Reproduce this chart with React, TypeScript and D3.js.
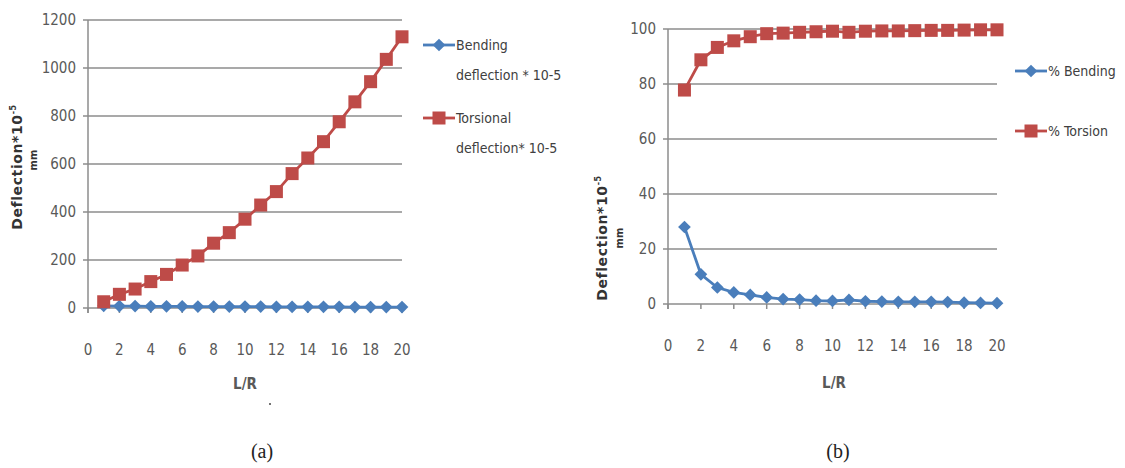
import { useEffect, useRef } from "react";
import * as d3 from "d3";

// L/R values
const lr = d3.range(1, 21);

// chart (a): deflection * 10^-5 mm
const bendingDeflection = [9, 8, 8, 7, 7, 7, 6, 6, 6, 6, 6, 5, 5, 5, 5, 5, 4, 4, 4, 4];
const torsionalDeflection = [26, 57, 79, 110, 140, 179, 217, 270, 314, 370, 429, 485, 560, 625, 693, 776, 859, 943, 1036, 1130];

// chart (b): percentages
const pctBending = [28, 10.8, 6, 4.2, 3.3, 2.4, 1.8, 1.6, 1.2, 1.1, 1.5, 1.0, 0.9, 0.8, 0.8, 0.8, 0.7, 0.5, 0.4, 0.3];
const pctTorsion = [77.8, 88.8, 93.3, 95.7, 97.2, 98.3, 98.5, 98.8, 99.0, 99.2, 98.8, 99.2, 99.3, 99.3, 99.4, 99.5, 99.5, 99.6, 99.7, 99.7];

const xTicks = d3.range(0, 21, 2);
const yTicksA = d3.range(0, 1201, 200);
const yTicksB = d3.range(0, 101, 20);

const BLUE = "#4a7ebb";
const RED = "#be4b48";
const GRID = "#8c8c8c";
const TEXT = "#595959";
const FONT = "'Liberation Sans Narrow', 'DejaVu Sans Condensed', 'Noto Sans', sans-serif";

export default function App() {
    const ref = useRef<SVGSVGElement>(null);

    useEffect(() => {
        const svg = d3.select(ref.current);
        svg.selectAll("*").remove();

        const panels = [
            {
                x: [88, 402], y: [308, 20], yMax: 1200, yTicks: yTicksA,
                series: [bendingDeflection, torsionalDeflection],
                xLabel: [245, 389], dot: true,
                yLabel: [22, 167], mmLabel: [37, 160],
                legend: { x: 423, ys: [45, 118], labels: [["Bending", "deflection * 10-5"], ["Torsional", "deflection* 10-5"]] },
                caption: [262, 458, "(a)"]
            },
            {
                x: [668, 997], y: [304, 29], yMax: 100, yTicks: yTicksB,
                series: [pctBending, pctTorsion],
                xLabel: [834, 388], dot: false,
                yLabel: [607, 238], mmLabel: [623, 238],
                legend: { x: 1015, ys: [71, 131], labels: [["% Bending"], ["% Torsion"]] },
                caption: [838, 458, "(b)"]
            }
        ];

        panels.forEach(p => {
            const xs = d3.scaleLinear().domain([0, 20]).range(p.x);
            const ys = d3.scaleLinear().domain([0, p.yMax]).range(p.y);
            const g = svg.append("g");

            // gridlines
            g.selectAll(".grid")
                .data(p.yTicks)
                .enter()
                .append("line")
                .attr("x1", xs(0) - 5)
                .attr("x2", xs(20))
                .attr("y1", d => ys(d))
                .attr("y2", d => ys(d))
                .attr("stroke", GRID)
                .attr("stroke-width", 1.5);

            // y axis line
            g.append("line")
                .attr("x1", xs(0)).attr("x2", xs(0))
                .attr("y1", ys(p.yMax)).attr("y2", ys(0) + 5)
                .attr("stroke", GRID).attr("stroke-width", 1.5);

            // x tick marks
            g.selectAll(".xt")
                .data(xTicks)
                .enter()
                .append("line")
                .attr("x1", d => xs(d)).attr("x2", d => xs(d))
                .attr("y1", ys(0)).attr("y2", ys(0) + 5)
                .attr("stroke", GRID).attr("stroke-width", 1.5);

            // y tick labels
            g.selectAll(".yl")
                .data(p.yTicks)
                .enter()
                .append("text")
                .attr("x", xs(0) - 12)
                .attr("y", d => ys(d) + 5)
                .attr("text-anchor", "end")
                .style("font-family", FONT)
                .style("font-size", "15px")
                .style("fill", TEXT)
                .text(d => d);

            // x tick labels
            g.selectAll(".xl")
                .data(xTicks)
                .enter()
                .append("text")
                .attr("x", d => xs(d))
                .attr("y", ys(0) + 47)
                .attr("text-anchor", "middle")
                .style("font-family", FONT)
                .style("font-size", "15px")
                .style("fill", TEXT)
                .text(d => d);

            // axis titles
            g.append("text")
                .attr("x", p.xLabel[0]).attr("y", p.xLabel[1])
                .attr("text-anchor", "middle")
                .style("font-family", FONT).style("font-size", "15px")
                .style("font-weight", "bold").style("fill", TEXT)
                .text("L/R");
            if (p.dot) {
                g.append("circle").attr("cx", 270).attr("cy", 404).attr("r", 1).attr("fill", "#444");
            }

            const yt = g.append("text")
                .attr("transform", `translate(${p.yLabel[0]},${p.yLabel[1]}) rotate(-90)`)
                .attr("text-anchor", "middle")
                .style("font-family", "'DejaVu Sans', sans-serif").style("font-size", "14px")
                .style("font-weight", "bold").style("fill", "#333")
                .style("letter-spacing", "0.6px");
            yt.append("tspan").text("Deflection*10");
            yt.append("tspan").attr("dy", -6).style("font-size", "8px").text("-5");
            g.append("text")
                .attr("transform", `translate(${p.mmLabel[0]},${p.mmLabel[1]}) rotate(-90)`)
                .attr("text-anchor", "middle")
                .style("font-family", "'DejaVu Sans', sans-serif").style("font-size", "10px")
                .style("font-weight", "bold").style("fill", "#333")
                .text("mm");

            // series
            const line = d3.line<number>()
                .x((d, i) => xs(lr[i]))
                .y(d => ys(d));
            const colors = [BLUE, RED];

            p.series.forEach((s, si) => {
                g.append("path")
                    .attr("d", line(s))
                    .attr("fill", "none")
                    .attr("stroke", colors[si])
                    .attr("stroke-width", 2.8);
            });
            p.series.forEach((s, si) => {
                if (si === 0) {
                    g.selectAll(".dm" + si)
                        .data(s)
                        .enter()
                        .append("rect")
                        .attr("x", -4.5).attr("y", -4.5)
                        .attr("width", 9).attr("height", 9)
                        .attr("transform", (d, i) => `translate(${xs(lr[i])},${ys(d)}) rotate(45)`)
                        .attr("fill", BLUE);
                } else {
                    g.selectAll(".sq" + si)
                        .data(s)
                        .enter()
                        .append("rect")
                        .attr("x", (d, i) => xs(lr[i]) - 6.5)
                        .attr("y", d => ys(d) - 6.5)
                        .attr("width", 13).attr("height", 13)
                        .attr("fill", RED);
                }
            });

            // legend
            p.legend.ys.forEach((ly, li) => {
                const lg = g.append("g").attr("transform", `translate(${p.legend.x},${ly})`);
                lg.append("line").attr("x1", 0).attr("x2", 32).attr("y1", 0).attr("y2", 0)
                    .attr("stroke", colors[li]).attr("stroke-width", 2.8);
                if (li === 0) {
                    lg.append("rect").attr("x", -4.5).attr("y", -4.5).attr("width", 9).attr("height", 9)
                        .attr("transform", "translate(16,0) rotate(45)").attr("fill", BLUE);
                } else {
                    lg.append("rect").attr("x", 9.5).attr("y", -6.5).attr("width", 13).attr("height", 13)
                        .attr("fill", RED);
                }
                p.legend.labels[li].forEach((t, ti) => {
                    lg.append("text")
                        .attr("x", 33).attr("y", 5 + ti * 30)
                        .style("font-family", FONT).style("font-size", "14px")
                        .style("fill", "#404040")
                        .text(t);
                });
            });

            // caption
            g.append("text")
                .attr("x", p.caption[0]).attr("y", p.caption[1])
                .attr("text-anchor", "middle")
                .style("font-family", "'Liberation Serif', serif").style("font-size", "20px")
                .style("fill", "#222")
                .text(p.caption[2] as string);
        });
    }, []);

    return (
        <svg ref={ref} width={1125} height={468}
            style={{ position: "fixed", top: 0, left: 0, background: "#fff" }} />
    );
}
